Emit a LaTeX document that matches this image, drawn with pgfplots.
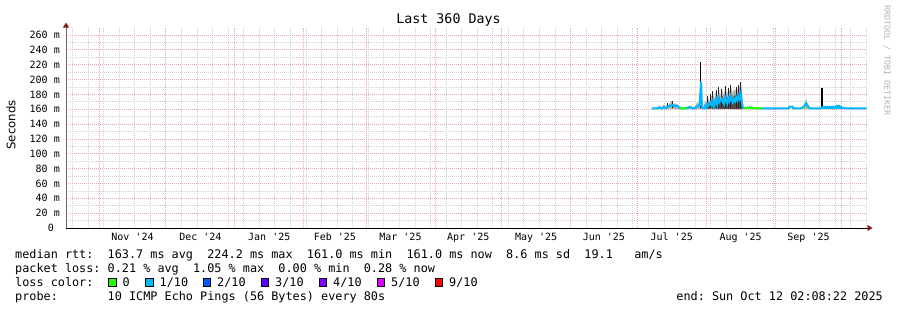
\documentclass[border=0pt]{standalone}
\usepackage{pgfplots}
\pgfplotsset{compat=1.18}
\usetikzlibrary{arrows.meta}
\usepackage{fontspec}
\newfontfamily\mono{DejaVu Sans Mono}
\newfontfamily\dejavu{DejaVu Sans}
\definecolor{lossA}{HTML}{26FF00}
\definecolor{lossB}{HTML}{00B8FF}
\definecolor{lossC}{HTML}{0059FF}
\definecolor{lossD}{HTML}{5E00FF}
\definecolor{lossE}{HTML}{7E00FF}
\definecolor{lossF}{HTML}{DD00FF}
\definecolor{lossG}{HTML}{FF0000}
\definecolor{arrowred}{HTML}{8B1A1A}
\definecolor{mgrid}{HTML}{F2A8A8}
\definecolor{ngrid}{HTML}{D2D2D2}
\newcommand\legfont{\mono\fontsize{11.82}{14}\selectfont}
\begin{document}
\begin{tikzpicture}
\path[use as bounding box] (0,0) rectangle (897pt,310pt);
\begin{axis}[
  at={(66pt,82pt)}, anchor=south west,
  scale only axis, width=800.5pt, height=200.4pt,
  xmin=0.089, xmax=360.089, ymin=0, ymax=270,
  axis x line=bottom, axis y line=left,
  x axis line style={black, line width=0.8pt, -{Triangle[length=5pt,width=6pt,color=arrowred]}, shorten >=-6pt},
  y axis line style={black!60, line width=0.8pt, -{Triangle[length=5pt,width=6pt,color=arrowred]}, shorten >=-5pt},
  xtick={30,60.5,91.5,121,150.5,181,211.5,242,272.5,303.5,334},
  xticklabels={Nov '24,Dec '24,Jan '25,Feb '25,Mar '25,Apr '25,May '25,Jun '25,Jul '25,Aug '25,Sep '25},
  xmajorgrids=false,
  extra x ticks={15,45,76,107,135,166,196,227,257,288,319,349},
  extra x tick labels={},
  extra x tick style={xmajorgrids=true},
  minor xtick={3,10,...,360},
  xminorgrids=true,
  ytick={0,20,...,260},
  yticklabels={0~~,20~m,40~m,60~m,80~m,100~m,120~m,140~m,160~m,180~m,200~m,220~m,240~m,260~m},
  minor ytick={10,30,...,250},
  ymajorgrids=true, yminorgrids=true,
  major grid style={mgrid, line width=0.75pt, dash pattern=on 1pt off 1pt},
  minor grid style={ngrid, line width=0.75pt, dash pattern=on 1pt off 1pt},
  major tick length=0pt, minor tick length=0pt,
  xticklabel style={font=\mono\fontsize{10}{12}\selectfont, anchor=base, inner sep=0pt, yshift=-13pt},
  yticklabel style={font=\mono\fontsize{10}{12}\selectfont, anchor=east, inner sep=0pt, xshift=-6pt},
  unbounded coords=jump,
  clip=false,
]
% light smoke
\addplot[draw=none, fill=black!30] coordinates {
(265.5,160)(266,163)(267,165)(268,162)(269,167)(270,163)(270.5,168)(271,165)(272,170)(272.6,171)(273,167)(274,168)(275,166)(276,162)(279,162)(280.5,165)(281,163)(282,162)(283,164)(284,169)(285,166)(286,163)
(287,165)(287.5,172)(288,168)(288.5,178)(289,174)(289.5,170)(290,180)(290.5,176)(291,184)(291.5,173)(292,179)(292.5,186)(293,177)(293.5,190)(294,182)(294.5,176)(295,187)(295.5,183)(296,178)(296.5,191)(297,185)(297.5,180)(298,189)(298.5,184)(299,192)(299.5,186)(300,181)(300.5,188)(301,183)(301.5,190)(302,185)(302.5,193)(303,188)(303.5,197)(304,186)(304.5,164)
(304.5,160)} -- cycle;
\addplot[draw=none, fill=black!30] coordinates {(331,160)(332,165)(333,174)(333.5,168)(334,164)(335,160)} -- cycle;
% dark smoke
\addplot[draw=none, fill=black!70] coordinates {
(287,161)(287.5,167)(288,164)(288.5,172)(289,169)(289.5,166)(290,174)(290.5,170)(291,177)(291.5,168)(292,172)(292.5,179)(293,171)(293.5,182)(294,175)(294.5,170)(295,179)(295.5,176)(296,171)(296.5,183)(297,178)(297.5,173)(298,181)(298.5,177)(299,184)(299.5,178)(300,174)(300.5,180)(301,176)(301.5,182)(302,178)(302.5,185)(303,180)(303.5,189)(304,178)(304.5,162)
(304.5,160)} -- cycle;
% spikes
\addplot[black, line width=1.8pt] coordinates {(285.4,161)(285.4,224.2)(285.4,nan)(340.1,161)(340.1,188)};
\addplot[black!85, line width=0.8pt] coordinates {(288.5,161)(288.5,178)(288.5,nan)(290,161)(290,180)(290,nan)(291,161)(291,184)(291,nan)(292.5,161)(292.5,186)(292.5,nan)(293.5,161)(293.5,190)(293.5,nan)(295,161)(295,187)(295,nan)(296.5,161)(296.5,191)(296.5,nan)(298,161)(298,189)(298,nan)(299,161)(299,192)(299,nan)(301.5,161)(301.5,190)(301.5,nan)(302.5,161)(302.5,193)(302.5,nan)(303.5,161)(303.5,197)(303.5,nan)(270.5,161)(270.5,168)(270.5,nan)(272.6,161)(272.6,171)};
% median band (blue, loss 1/10)
\addplot[draw=none, fill=lossB] coordinates {(340.4,160)(340.4,164.5)(346,164.5)(346.5,166)(348,166)(348.5,164.5)(349,164.5)(349,160)} -- cycle;
\addplot[lossB, line width=2pt] coordinates {
(263.5,161)(266,161)(267,162.5)(268,161)(269,163)(270,161.5)(271,164)(272,165)(273,166)(274,164)(275,165)(276,162)(278,161)(280,162)(281,163)(282,161)(283,162)(284,164)(285,165)(285.7,197)(286.1,162)(287,161)(287.5,164)(288,162)(288.5,167)(289,165)(290,169)(290.5,165)(291,171)(291.5,164)(292,168)(292.5,173)(293,166)(293.5,175)(294,170)(295,174)(295.5,169)(296,167)(296.5,176)(297,172)(297.5,168)(298,175)(298.5,171)(299,177)(299.5,172)(300,169)(300.5,174)(301,171)(301.5,176)(302,172)(302.5,178)(303,174)(303.6,181)(304,170)(304.5,162)(306,162)(308,162.5)(310,161.5)(313,161)(316,161)(320,161)(325,161)(325.5,163.5)(326.8,163.5)(327.2,161)(330,161)(331,162)(332,164)(333,168)(334,163)(335,161)(337,161)(339.5,161)(340.4,163)(349,162)(352,161)(360.089,161)};
% green segments (loss 0)
\addplot[lossA, line width=2pt] coordinates {(276.2,161)(279.2,161)(279.2,nan)(305,162)(313,161.2)(313,nan)(331.5,161.5)(332.3,162)};
\end{axis}
% title
\node[anchor=base, font=\mono\fontsize{13.3}{16}\selectfont] at (448.5pt,286pt) {Last 360 Days};
% y label
\node[rotate=90, anchor=center, font=\dejavu\fontsize{11.7}{14}\selectfont] at (11pt,185pt) {Seconds};
% watermark
\node[rotate=-90, anchor=west, inner sep=0pt, text=black!30, font=\mono\fontsize{8.3}{10}\selectfont] at (887pt,305pt) {RRDTOOL / TOBI OETIKER};
% legend lines
\node[anchor=base west, inner sep=0pt, font=\legfont] at (15pt,51.5pt) {median~rtt:~~163.7~ms~avg~~224.2~ms~max~~161.0~ms~min~~161.0~ms~now~~8.6~ms~sd~~19.1~~~am/s};
\node[anchor=base west, inner sep=0pt, font=\legfont] at (15pt,37.5pt) {packet~loss:~0.21~\%~avg~~1.05~\%~max~~0.00~\%~min~~0.28~\%~now};
\node[anchor=base west, inner sep=0pt, font=\legfont] at (15pt,23.5pt) {loss~color:};
\node[anchor=base west, inner sep=0pt, font=\legfont] at (15pt,9.5pt) {probe:~~~~~~~10~ICMP~Echo~Pings~(56~Bytes)~every~80s};
\node[anchor=base east, inner sep=0pt, font=\legfont] at (883pt,9.5pt) {end:~Sun~Oct~12~02:08:22~2025};
% loss colour boxes
\foreach \bx/\col/\lab in {108.5/lossA/0,145.5/lossB/1\slash 10,203/lossC/2\slash 10,261/lossD/3\slash 10,319/lossE/4\slash 10,377/lossF/5\slash 10,435/lossG/9\slash 10}{
  \filldraw[fill=\col, draw=black, line width=0.7pt] (\bx pt,23.2pt) rectangle ++(7.5pt,8.6pt);
  \node[anchor=base west, inner sep=0pt, font=\legfont] at (\bx pt+14pt,23.5pt) {\lab};
}
\end{tikzpicture}
\end{document}
